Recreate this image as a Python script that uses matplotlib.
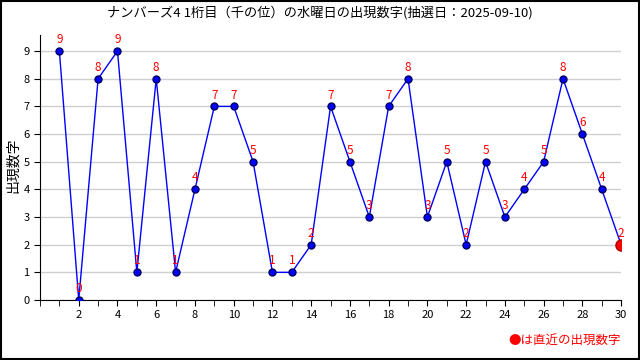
import matplotlib
matplotlib.use('Agg')
import matplotlib.pyplot as plt
from matplotlib.ticker import MultipleLocator

plt.rcParams['font.family'] = ['Noto Sans CJK JP', 'DejaVu Sans']

# 回数 (1..30) と出現数字
draws = list(range(1, 31))
digits = [9, 0, 8, 9, 1, 8, 1, 4, 7, 7, 5, 1, 1, 2, 7, 5, 3, 7, 8, 3, 5, 2, 5, 3, 4, 5, 8, 6, 4, 2]
xticks = list(range(2, 31, 2))
title = 'ナンバーズ4 1桁目（千の位）の水曜日の出現数字(抽選日：2025-09-10)'
ylabel = '出現数字'
note = '●は直近の出現数字'

fig = plt.figure(figsize=(6.4, 3.6), dpi=100)
ax = fig.add_axes([0.0625, 0.1667, 0.908, 0.736])

ax.plot(draws, digits, color='#0000ff', lw=1, marker='o', ms=5,
        markerfacecolor='#0000ff', markeredgecolor='#000060', zorder=3)
ax.plot(draws[-1], digits[-1], 'o', ms=8, color='#ff0000',
        markeredgecolor='#aa0000', zorder=4)
for x, y in zip(draws, digits):
    ax.annotate(str(y), (x, y), xytext=(0, 3.5), textcoords='offset points',
                ha='center', va='bottom', color='#ff0000', fontsize=8.5, zorder=5)

ax.set_xlim(0, 30)
ax.set_ylim(0, 9.58)
ax.set_xticks(xticks)
ax.xaxis.set_minor_locator(MultipleLocator(1))
ax.set_yticks(range(0, 10))
ax.grid(axis='y', color='#d0d0d0', lw=1)
ax.set_axisbelow(True)
for s in ['top', 'right']:
    ax.spines[s].set_visible(False)
ax.tick_params(labelsize=8, length=4, direction='out')
ax.tick_params(which='minor', length=4)

fig.text(0.5, 0.965, title, ha='center', va='center', fontsize=9.5)
fig.text(0.02, 0.54, ylabel, ha='center', va='center', rotation=90, fontsize=10)
fig.text(0.97, 0.055, note, ha='right', va='center', fontsize=9, color='#ff0000')

border = plt.Rectangle((0.001, 0.002), 0.997, 0.996, transform=fig.transFigure,
                       fill=False, edgecolor='black', lw=1.5)
fig.patches.append(border)

fig.savefig('out.png', dpi=100)
